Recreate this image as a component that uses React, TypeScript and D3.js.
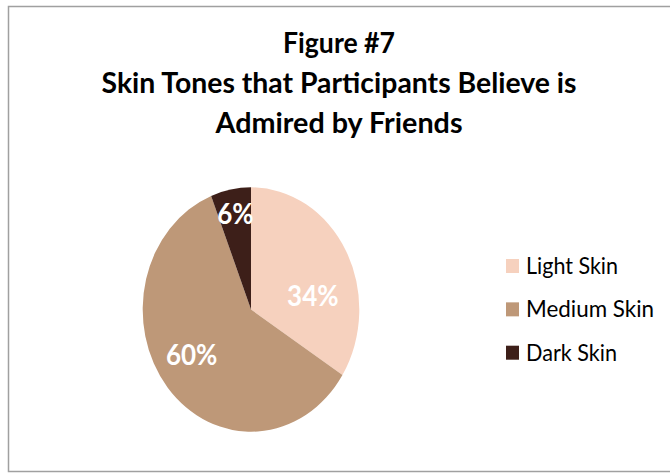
import React from "react";
import * as d3 from "d3";

// Survey shares by skin tone
const categories = ["Light Skin", "Medium Skin", "Dark Skin"];
const shares = [34, 60, 6];
const sliceColors = ["#F6D1BE", "#BE9878", "#3D1F19"];
const titleLines = [
  "Figure #7",
  "Skin Tones that Participants Believe is",
  "Admired by Friends",
];

// Layout
const W = 670;
const H = 475;
const cx = 251;
const cy = 309.5;
const rx = 108.3;
const ry = 122.2;
const squash = ry / rx; // the pie and its text are drawn slightly taller than wide

const titleX = 339;
const titleBaselines = [52.5, 93, 132.5];
const titleWidths = [112, 475, 247];

const legendX = 506;
const legendFirstBaseline = 274;
const legendStep = 43.35;
const legendWidths = [92, 128, 91];

// per-slice label nudges (page px) from the arc centroid
const labelNudges: [number, number][] = [
  [3, 33],
  [-7.6, 7.2],
  [-3, -11],
];

const FONT = "Lato, 'Open Sans', 'DejaVu Sans', sans-serif";

export default function App() {
  const pie = d3
    .pie<number>()
    .sort(null)
    .value((d) => d);
  const arcs = pie(shares);

  const arc = d3.arc<d3.PieArcDatum<number>>().innerRadius(0).outerRadius(rx);
  const labelArc = d3
    .arc<d3.PieArcDatum<number>>()
    .innerRadius(rx * 0.62)
    .outerRadius(rx * 0.62);

  const legendY = (i: number) => legendFirstBaseline + i * legendStep;

  return (
    <svg
      width={W}
      height={H}
      style={{ position: "absolute", left: 0, top: 0, display: "block", background: "#fff" }}
    >
      <rect x={0} y={0} width={W} height={H} fill="#fff" />
      <rect
        x={8.5}
        y={6.5}
        width={W + 10}
        height={465}
        fill="none"
        stroke="#A0A0A0"
        strokeWidth={1.5}
      />

      {titleLines.map((line, i) => (
        <text
          key={line}
          transform={`translate(${titleX},${titleBaselines[i]}) scale(1,${squash})`}
          textAnchor="middle"
          fontFamily={FONT}
          fontWeight={700}
          fontSize={26}
          fill="#000"
          textLength={titleWidths[i]}
          lengthAdjust="spacingAndGlyphs"
        >
          {line}
        </text>
      ))}

      <g transform={`translate(${cx},${cy}) scale(1,${squash})`}>
        {arcs.map((a, i) => (
          <path key={categories[i]} d={arc(a) ?? ""} fill={sliceColors[i]} />
        ))}
        {arcs.map((a, i) => {
          const [lx, ly] = labelArc.centroid(a);
          const [nx, ny] = labelNudges[i];
          return (
            <text
              key={`lbl-${categories[i]}`}
              x={lx + nx}
              y={ly + ny / squash}
              textAnchor="middle"
              fontFamily={FONT}
              fontWeight={700}
              fontSize={26}
              fill="#fff"
            >
              {`${shares[i]}%`}
            </text>
          );
        })}
      </g>

      {categories.map((c, i) => (
        <g key={`leg-${c}`}>
          <rect
            x={legendX}
            y={legendY(i) - 15}
            width={13}
            height={14}
            fill={sliceColors[i]}
          />
          <text
            transform={`translate(${legendX + 20},${legendY(i)}) scale(1,${squash})`}
            fontFamily={FONT}
            fontSize={21}
            fill="#000"
            textLength={legendWidths[i]}
            lengthAdjust="spacingAndGlyphs"
          >
            {c}
          </text>
        </g>
      ))}
    </svg>
  );
}
